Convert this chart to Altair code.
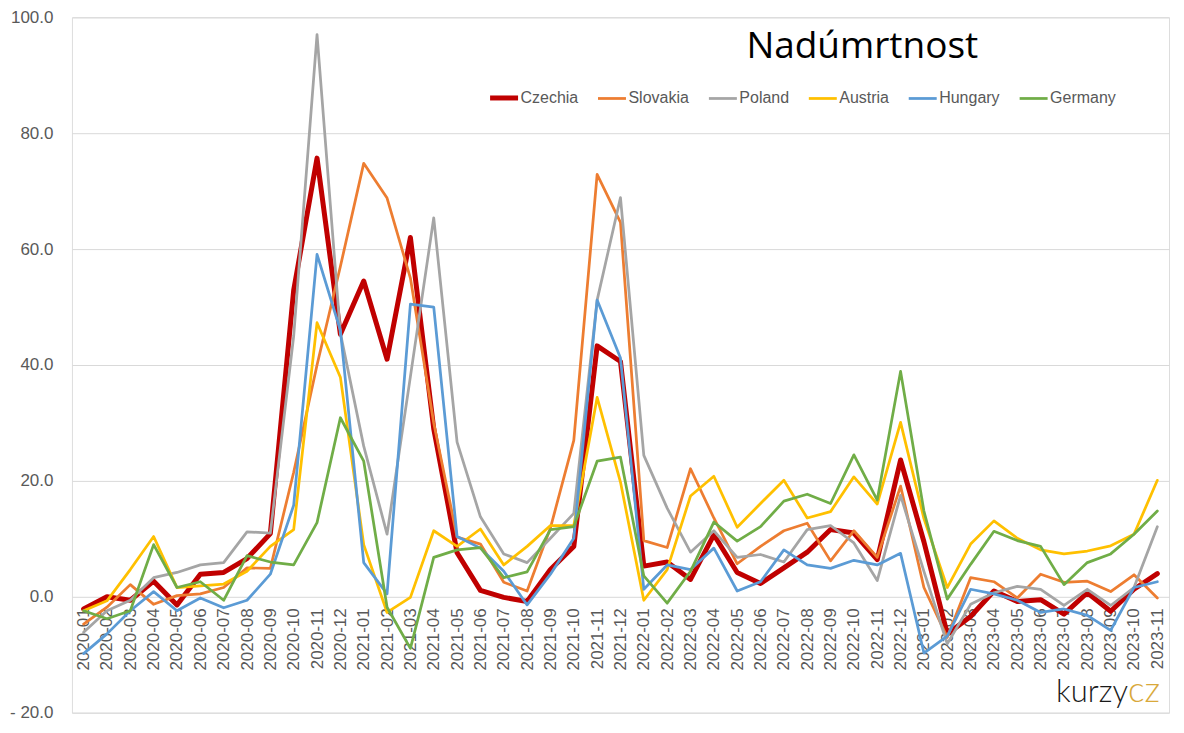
import altair as alt
import pandas as pd

months = [
    "2020-01", "2020-02", "2020-03", "2020-04", "2020-05", "2020-06",
    "2020-07", "2020-08", "2020-09", "2020-10", "2020-11", "2020-12",
    "2021-01", "2021-02", "2021-03", "2021-04", "2021-05", "2021-06",
    "2021-07", "2021-08", "2021-09", "2021-10", "2021-11", "2021-12",
    "2022-01", "2022-02", "2022-03", "2022-04", "2022-05", "2022-06",
    "2022-07", "2022-08", "2022-09", "2022-10", "2022-11", "2022-12",
    "2023-01", "2023-02", "2023-03", "2023-04", "2023-05", "2023-06",
    "2023-07", "2023-08", "2023-09", "2023-10", "2023-11",
]

czechia = [-2.1, 0.0, -0.6, 2.7, -1.4, 3.9, 4.2, 6.6, 10.9, 52.9, 75.7, 45.3,
           54.5, 41.0, 62.0, 29.0, 7.6, 1.1, -0.1, -0.8, 4.7, 8.7, 43.3, 40.6,
           5.3, 6.0, 3.0, 10.7, 4.2, 2.3, 5.0, 7.7, 11.6, 11.0, 6.4, 23.6,
           9.5, -6.4, -3.4, 1.0, -0.8, -0.5, -3.0, 0.7, -2.5, 1.3, 4.0]
slovakia = [-4.7, -1.8, 2.1, -1.3, 0.2, 0.5, 1.6, 5.0, 4.9, 21.5, 40.0, 57.0,
            74.8, 68.8, 55.0, 30.0, 10.3, 9.1, 2.5, 1.0, 11.9, 27.0, 72.9, 64.6,
            9.7, 8.5, 22.1, 13.6, 5.7, 8.7, 11.4, 12.7, 6.2, 11.4, 6.8, 19.1,
            1.6, -7.0, 3.3, 2.6, -0.2, 3.9, 2.5, 2.7, 0.9, 3.8, -0.2]
poland = [-6.1, -2.4, -0.6, 3.3, 4.2, 5.5, 5.9, 11.2, 11.0, 45.0, 97.0, 45.5,
          26.0, 10.8, 38.0, 65.4, 26.7, 13.8, 7.4, 5.9, 10.1, 14.4, 51.2, 68.9,
          24.4, 15.3, 7.7, 11.4, 6.8, 7.3, 6.0, 11.6, 12.3, 9.3, 2.8, 17.5,
          4.4, -8.1, -1.3, 0.7, 1.8, 1.3, -1.5, 1.3, -1.5, 1.6, 12.1]
austria = [-2.4, -0.7, 4.7, 10.4, 1.6, 1.9, 2.2, 4.4, 8.7, 11.6, 47.3, 37.9,
           9.0, -2.7, -0.1, 11.4, 8.7, 11.7, 5.5, 8.7, 12.3, 12.3, 34.4, 19.8,
           -0.6, 4.7, 17.4, 20.8, 12.0, 16.1, 20.1, 13.6, 14.7, 20.7, 16.0, 30.1,
           13.5, 1.6, 9.1, 13.1, 10.1, 8.1, 7.4, 7.9, 8.8, 10.8, 20.1]
hungary = [-9.8, -6.4, -2.4, 0.9, -2.4, -0.2, -1.9, -0.6, 3.9, 15.8, 59.1, 46.0,
           5.9, 0.5, 50.5, 50.0, 10.4, 8.4, 4.4, -1.4, 3.9, 10.1, 51.2, 41.2,
           1.3, 5.5, 4.7, 8.4, 1.0, 2.6, 8.1, 5.5, 4.9, 6.3, 5.5, 7.5,
           -9.7, -6.8, 1.3, 0.5, -0.6, -2.7, -2.1, -3.2, -5.8, 1.6, 2.6]
germany = [-2.4, -3.8, -2.4, 9.0, 1.6, 2.6, -0.6, 7.1, 6.0, 5.5, 12.8, 30.9,
           23.4, -1.8, -8.9, 6.8, 8.1, 8.5, 3.3, 4.3, 11.6, 12.1, 23.4, 24.1,
           3.6, -1.1, 4.4, 12.9, 9.6, 12.1, 16.5, 17.7, 16.1, 24.5, 16.7, 38.9,
           14.8, -0.4, 5.6, 11.3, 9.7, 8.7, 2.1, 5.9, 7.4, 10.8, 14.8]

countries = ["Czechia", "Slovakia", "Poland", "Austria", "Hungary", "Germany"]
series = [czechia, slovakia, poland, austria, hungary, germany]
colors = ["#C00000", "#ED7D31", "#A5A5A5", "#FFC000", "#5B9BD5", "#70AD47"]
widths = [5.0, 2.75, 2.75, 2.75, 2.75, 2.75]
y_ticks = [-20, 0, 20, 40, 60, 80, 100]

rows = []
for name, vals in zip(countries, series):
    for m, v in zip(months, vals):
        rows.append({"country": name, "month": m, "value": v})
df = pd.DataFrame(rows)

label_color = "#595959"
PLOT_W = 1098
PLOT_H = 696

lines = alt.Chart(df).mark_line(strokeJoin="round", strokeCap="round").encode(
    x=alt.X(
        "month:O",
        sort=months,
        scale=alt.Scale(type="point", padding=0.5),
        axis=alt.Axis(
            title=None, labelAngle=270, offset=-116, domain=False, ticks=False,
            tickSize=0, labelPadding=11, labelFontSize=17, labelColor=label_color,
            labelFont="Liberation Sans", labelOverlap=False, grid=False,
        ),
    ),
    y=alt.Y(
        "value:Q",
        scale=alt.Scale(domain=[-20, 100], nice=False, zero=False),
        axis=alt.Axis(
            title=None, values=y_ticks, domain=False, ticks=False, tickSize=0,
            labelPadding=19, labelFontSize=17, labelColor=label_color,
            labelFont="Liberation Sans", gridColor="#D9D9D9", gridWidth=1,
            labelExpr="datum.value < 0 ? '- ' + format(-datum.value, '.1f') : format(datum.value, '.1f')",
        ),
    ),
    color=alt.Color(
        "country:N",
        sort=countries,
        scale=alt.Scale(domain=countries, range=colors),
        legend=alt.Legend(
            title=None, orient="none", legendX=416, legendY=64,
            direction="horizontal", columns=6, symbolType="stroke",
            symbolSize=784, labelFontSize=16, labelColor=label_color,
            labelFont="Liberation Sans", labelOffset=0, columnPadding=14,
            padding=0,
        ),
    ),
    strokeWidth=alt.StrokeWidth(
        "country:N",
        sort=countries,
        scale=alt.Scale(type="ordinal", domain=countries, range=widths),
    ),
)

title_df = pd.DataFrame({"t": ["Nadúmrtnost"]})
title = alt.Chart(title_df).mark_text(
    font="Open Sans", fontSize=37, color="#000000",
    align="center", baseline="alphabetic",
).encode(text="t:N", x=alt.value(791), y=alt.value(41))

logo_a = alt.Chart(pd.DataFrame({"t": ["kurzy"]})).mark_text(
    font="Lato", fontWeight=300, fontSize=31, color="#1A1A1A",
    align="right", baseline="alphabetic",
).encode(text="t:N", x=alt.value(1057), y=alt.value(685))

logo_b = alt.Chart(pd.DataFrame({"t": ["cz"]})).mark_text(
    font="Lato", fontWeight=300, fontSize=35, color="#D9A93B",
    align="left", baseline="alphabetic",
).encode(text="t:N", x=alt.value(1057), y=alt.value(685))

chart = alt.layer(lines, title, logo_a, logo_b).properties(
    width=PLOT_W,
    height=PLOT_H,
    autosize=alt.AutoSizeParams(type="none"),
    padding={"left": 64, "top": 9, "right": 7, "bottom": 10},
).configure_view(strokeWidth=0).configure(background="white")

chart.save("out.html", embed_options={"renderer": "svg", "actions": False})
